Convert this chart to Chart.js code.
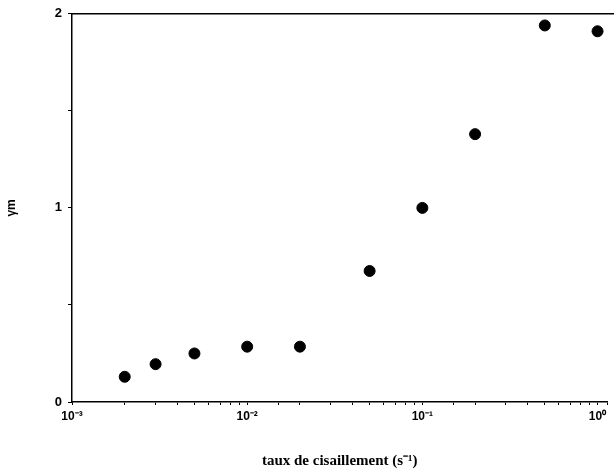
<!DOCTYPE html>
<html lang="fr">
<head>
    <meta charset="UTF-8">
    <title>gamma m vs taux de cisaillement</title>
    <script src="https://cdn.jsdelivr.net/npm/chart.js"></script>
    <style>
        body {
            margin: 0;
            background: #fff;
        }
    </style>
</head>
<body>
    <canvas id="shear-chart" width="614" height="474"></canvas>

    <script>
        // shear rate (s^-1) and gamma_m
        const shearRates = [0.002, 0.003, 0.005, 0.01, 0.02, 0.05, 0.1, 0.2, 0.5, 1.0];
        const gammaM = [0.13, 0.195, 0.25, 0.285, 0.285, 0.675, 1.0, 1.38, 1.94, 1.91];
        const xTickLabels = {'0.001': '10⁻³', '0.01': '10⁻²', '0.1': '10⁻¹', '1': '10⁰'};
        const yTicks = [0, 0.5, 1, 1.5, 2];
        const yTickLabels = ['0', '', '1', '', '2'];

        const points = shearRates.map((x, i) => ({x: x, y: gammaM[i]}));

        // top frame line across the plot
        const topLine = {
            id: 'topLine',
            afterDraw(chart) {
                const {ctx, chartArea} = chart;
                ctx.save();
                ctx.strokeStyle = '#000';
                ctx.lineWidth = 1.5;
                ctx.beginPath();
                ctx.moveTo(chartArea.left, chartArea.top);
                ctx.lineTo(chart.width, chartArea.top);
                ctx.stroke();
                ctx.restore();
            }
        };

        const ctx = document.getElementById('shear-chart').getContext('2d');
        new Chart(ctx, {
            type: 'scatter',
            data: {
                datasets: [{
                    data: points,
                    backgroundColor: '#000',
                    borderColor: '#000',
                    pointRadius: 5.5,
                    pointHoverRadius: 5.5
                }]
            },
            options: {
                responsive: false,
                animation: false,
                layout: {padding: {top: 13, right: 0, left: 0, bottom: 0}},
                plugins: {
                    legend: {display: false},
                    tooltip: {enabled: false}
                },
                scales: {
                    x: {
                        type: 'logarithmic',
                        min: 0.001,
                        max: 1.14,
                        afterFit(axis) { axis.height = 72; },
                        grid: {drawOnChartArea: false, tickLength: 3, color: '#000'},
                        border: {color: '#000', width: 1.5},
                        ticks: {
                            autoSkip: false,
                            maxRotation: 0,
                            color: '#000',
                            padding: 4,
                            font: {family: 'Arial', size: 12, weight: 'bold'},
                            callback(value) {
                                return xTickLabels[String(value)] || '';
                            }
                        },
                        title: {
                            display: true,
                            text: 'taux de cisaillement (s⁻¹)',
                            color: '#000',
                            padding: {top: 14},
                            font: {family: 'Liberation Serif', size: 15, weight: 'bold'}
                        }
                    },
                    y: {
                        min: 0,
                        max: 2,
                        afterFit(axis) { axis.width = 72; },
                        afterBuildTicks(axis) {
                            axis.ticks = yTicks.map(v => ({value: v}));
                        },
                        grid: {drawOnChartArea: false, tickLength: 4, color: '#000'},
                        border: {color: '#000', width: 1.5},
                        ticks: {
                            color: '#000',
                            padding: 6,
                            font: {family: 'Arial', size: 13, weight: 'bold'},
                            callback(value, index) {
                                return yTickLabels[index];
                            }
                        },
                        title: {
                            display: true,
                            text: 'γm',
                            color: '#000',
                            padding: {bottom: 8},
                            font: {family: 'Arial', size: 12, weight: 'bold'}
                        }
                    }
                }
            },
            plugins: [topLine]
        });
    </script>
</body>
</html>
